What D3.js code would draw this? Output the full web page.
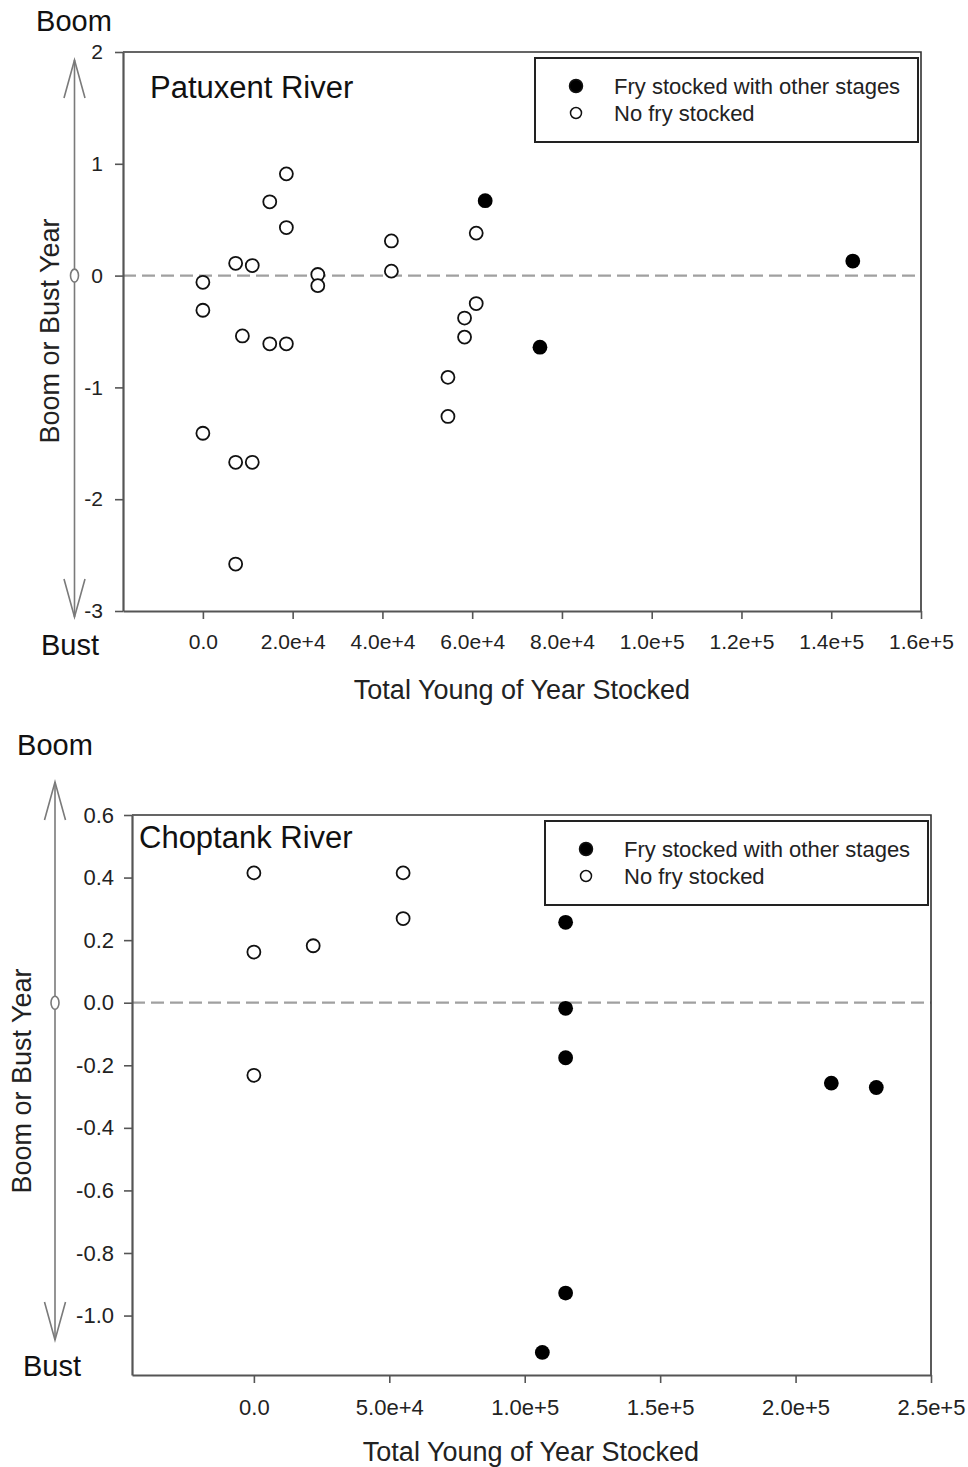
<!DOCTYPE html>
<html>
<head>
<meta charset="utf-8">
<script src="https://cdn.jsdelivr.net/npm/d3@7"></script>
<style>
  html, body { margin: 0; padding: 0; background: #fff; }
  svg { display: block; font-family: "Liberation Sans", Arial, sans-serif; }
</style>
</head>
<body>
<svg id="chart" width="968" height="1467"></svg>
<script>
// data: [total young of year stocked, boom/bust index]
const patuxentNoFry = [
  [0, -0.06], [0, -0.31], [0, -1.41],
  [7300, 0.11], [7300, -1.67], [7300, -2.58], [8800, -0.54],
  [11000, 0.09], [11000, -1.67],
  [14900, 0.66], [14900, -0.61],
  [18600, 0.91], [18600, 0.43], [18600, -0.61],
  [25600, 0.01], [25600, -0.09],
  [42000, 0.31], [42000, 0.04],
  [54600, -0.91], [54600, -1.26],
  [58300, -0.38], [58300, -0.55],
  [60900, 0.38], [60900, -0.25]
];
const patuxentFry = [[62900, 0.67], [75100, -0.64], [144800, 0.13]];

const choptankNoFry = [
  [0, 0.415], [0, 0.162], [0, -0.232],
  [21900, 0.182], [55100, 0.415], [55100, 0.269]
];
const choptankFry = [
  [115100, 0.257], [115100, -0.018], [115100, -0.176], [115100, -0.928],
  [106500, -1.118], [213200, -0.257], [229800, -0.271]
];

const patuxentXTicks = [0, 20000, 40000, 60000, 80000, 100000, 120000, 140000, 160000];
const patuxentYTicks = [-3, -2, -1, 0, 1, 2];
const choptankXTicks = [0, 50000, 100000, 150000, 200000, 250000];
const choptankYTicks = [-1.0, -0.8, -0.6, -0.4, -0.2, 0.0, 0.2, 0.4, 0.6];

const legendLabels = ['Fry stocked with other stages', 'No fry stocked'];

const locale = d3.formatLocale({ decimal: '.', thousands: ',', grouping: [3], currency: ['', ''], minus: '-' });
const sci = v => v === 0 ? '0.0' : locale.format('.1e')(v);

const panels = [
  {
    title: 'Patuxent River', fry: patuxentFry, noFry: patuxentNoFry,
    xDomain: [-17800, 160000], yDomain: [-3, 2],
    xTicks: patuxentXTicks, yTicks: patuxentYTicks, yFormat: locale.format('d'),
    left: 123, top: 52, right: 921, bottom: 611,
    xFont: 21, yFont: 21, yPad: 12, xPad: 15,
    titleX: 150, titleY: 98,
    arrowX: 74.5, arrowTop: 60, arrowBottom: 617,
    boom: [74, 31], bust: [70, 655], yTitle: [50, 331], xTitleY: 699, xTitleX: 522
  },
  {
    title: 'Choptank River', fry: choptankFry, noFry: choptankNoFry,
    xDomain: [-45000, 250000], yDomain: [-1.19, 0.6],
    xTicks: choptankXTicks, yTicks: choptankYTicks, yFormat: locale.format('.1f'),
    left: 132, top: 815, right: 931, bottom: 1375,
    xFont: 22, yFont: 22, yPad: 10, xPad: 16,
    titleX: 139, titleY: 848,
    arrowX: 55, arrowTop: 782, arrowBottom: 1340,
    boom: [55, 755], bust: [52, 1376], yTitle: [22, 1081], xTitleY: 1461, xTitleX: 531
  }
];

const svg = d3.select('#chart');

panels.forEach(p => {
  const x = d3.scaleLinear().domain(p.xDomain).range([p.left, p.right]);
  const y = d3.scaleLinear().domain(p.yDomain).range([p.bottom, p.top]);
  const g = svg.append('g');

  // zero reference line
  g.append('line')
    .attr('x1', p.left).attr('x2', p.right).attr('y1', y(0)).attr('y2', y(0))
    .attr('stroke', '#a0a0a0').attr('stroke-width', 2.2).attr('stroke-dasharray', '13,6');

  // top and right frame
  g.append('path')
    .attr('d', `M${p.left},${p.top}H${p.right}V${p.bottom}`)
    .attr('fill', 'none').attr('stroke', '#333').attr('stroke-width', 1.6);

  const yAxis = g.append('g').attr('transform', `translate(${p.left},0)`)
    .call(d3.axisLeft(y).tickValues(p.yTicks).tickFormat(p.yFormat).tickSize(8).tickPadding(p.yPad).tickSizeOuter(0));
  const xAxis = g.append('g').attr('transform', `translate(0,${p.bottom})`)
    .call(d3.axisBottom(x).tickValues(p.xTicks).tickFormat(sci).tickSize(8).tickPadding(p.xPad).tickSizeOuter(0));
  [yAxis, xAxis].forEach(a => {
    a.select('.domain').attr('stroke', '#555').attr('stroke-width', 2.2);
    a.selectAll('.tick line').attr('stroke', '#555').attr('stroke-width', 1.6);
    a.selectAll('.tick text').attr('fill', '#222').attr('font-family', '"Liberation Sans", Arial, sans-serif');
  });
  yAxis.selectAll('.tick text').attr('font-size', p.yFont);
  xAxis.selectAll('.tick text').attr('font-size', p.xFont);

  // points
  g.selectAll('circle.nofry').data(p.noFry).join('circle')
    .attr('class', 'nofry')
    .attr('cx', d => x(d[0])).attr('cy', d => y(d[1])).attr('r', 6.5)
    .attr('fill', '#fff').attr('stroke', '#111').attr('stroke-width', 1.8);
  g.selectAll('circle.fry').data(p.fry).join('circle')
    .attr('class', 'fry')
    .attr('cx', d => x(d[0])).attr('cy', d => y(d[1])).attr('r', 7.4)
    .attr('fill', '#000');

  // panel title
  g.append('text').attr('x', p.titleX).attr('y', p.titleY)
    .attr('font-size', 31).attr('fill', '#111').text(p.title);

  // legend
  const lw = 383, lh = 84;
  const lx = p.right - 3 - lw, ly = p.top + 6;
  const legend = g.append('g').attr('transform', `translate(${lx},${ly})`);
  legend.append('rect').attr('width', lw).attr('height', lh)
    .attr('fill', '#fff').attr('stroke', '#222').attr('stroke-width', 2);
  legendLabels.forEach((label, i) => {
    const cy = 28 + i * 27;
    legend.append('circle').attr('cx', 41).attr('cy', cy).attr('r', i === 0 ? 6.5 : 5.5)
      .attr('fill', i === 0 ? '#000' : '#fff').attr('stroke', '#111').attr('stroke-width', 1.5);
    legend.append('text').attr('x', 79).attr('y', cy + 8)
      .attr('font-size', 22).attr('fill', '#222').text(label);
  });

  // boom / bust arrow
  const arrow = g.append('g').attr('stroke', '#7a7a7a').attr('stroke-width', 1.6).attr('fill', 'none');
  arrow.append('line').attr('x1', p.arrowX).attr('x2', p.arrowX).attr('y1', p.arrowTop).attr('y2', p.arrowBottom);
  arrow.append('path').attr('d', `M${p.arrowX - 10.5},${p.arrowTop + 38}L${p.arrowX},${p.arrowTop}L${p.arrowX + 10.5},${p.arrowTop + 38}`);
  arrow.append('path').attr('d', `M${p.arrowX - 10.5},${p.arrowBottom - 38}L${p.arrowX},${p.arrowBottom}L${p.arrowX + 10.5},${p.arrowBottom - 38}`);
  arrow.append('ellipse').attr('cx', p.arrowX).attr('cy', y(0)).attr('rx', 4).attr('ry', 6.5).attr('fill', '#fff');

  g.append('text').attr('x', p.boom[0]).attr('y', p.boom[1]).attr('text-anchor', 'middle')
    .attr('font-size', 29).attr('fill', '#111').text('Boom');
  g.append('text').attr('x', p.bust[0]).attr('y', p.bust[1]).attr('text-anchor', 'middle')
    .attr('font-size', 29).attr('fill', '#111').text('Bust');

  // axis titles
  g.append('text')
    .attr('transform', `translate(${p.yTitle[0]},${p.yTitle[1]}) rotate(-90)`)
    .attr('text-anchor', 'middle').attr('dy', '0.35em')
    .attr('font-size', 27).attr('fill', '#222').text('Boom or Bust Year');
  g.append('text').attr('x', p.xTitleX).attr('y', p.xTitleY).attr('text-anchor', 'middle')
    .attr('font-size', 27).attr('fill', '#222').text('Total Young of Year Stocked');
});
</script>
</body>
</html>
